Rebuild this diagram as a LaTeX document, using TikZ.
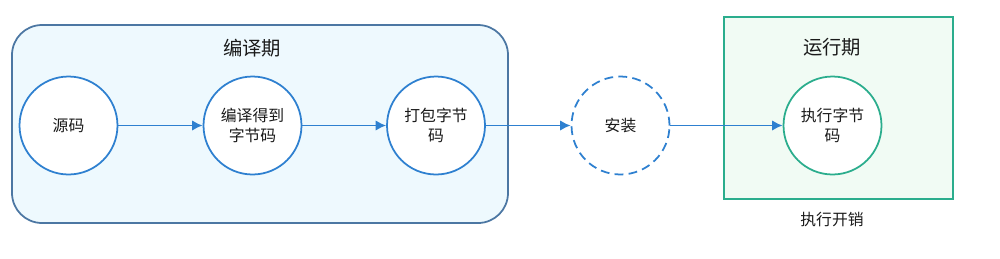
\documentclass[tikz,border=0pt]{standalone}
\usepackage{fontspec}
\setmainfont{Noto Sans CJK SC}
\usepackage{xcolor}
\usetikzlibrary{arrows.meta,positioning}
\definecolor{compileline}{HTML}{4C77A3}
\definecolor{compilefill}{HTML}{EEF9FE}
\definecolor{stepblue}{HTML}{2E80D0}
\definecolor{runline}{HTML}{2BAD8D}
\definecolor{runfill}{HTML}{F1FBF4}
\definecolor{txt}{HTML}{1A1A1A}

\begin{document}
\begin{tikzpicture}[x=0.02cm, y=-0.02cm, >={Latex[length=6pt,width=6pt]},
    every node/.style={font=\fontsize{9pt}{11.4pt}\selectfont, text=txt},
    stage/.style={circle, draw=stepblue, line width=1pt, fill=white,
      minimum size=1.96cm, inner sep=0pt, align=center, text width=1.4cm},
    flow/.style={->, draw=stepblue, line width=1pt}]
    \useasboundingbox (0,0) rectangle (1000,258);
    % phases
    \draw[draw=compileline, fill=compilefill, line width=1pt, rounded corners=0.6cm]
      (12,25) rectangle (508,223);
    \node[font=\fontsize{11pt}{13pt}\selectfont] (compiletitle) at (252,48) {编译期};
    \draw[draw=runline, fill=runfill, line width=1pt] (724,17) rectangle (953,199);
    \node[font=\fontsize{11pt}{13pt}\selectfont] (runtitle) at (832,47) {运行期};
    \node (runcost) at (832,220) {执行开销};
    % steps
    \node[stage] (source) at (68.5,125.5) {源码};
    \node[stage] (compile) at (252.5,125.5) {编译得到\\字节码};
    \node[stage] (pack) at (436,125.5) {打包字节\\码};
    \node[stage, dashed, dash pattern=on 5pt off 3pt] (install) at (620.5,125.5) {安装};
    \node[stage, draw=runline] (run) at (832.5,125.5) {执行字节\\码};
    % arrows
    \draw[flow] (source) -- (compile);
    \draw[flow] (compile) -- (pack);
    \draw[flow] (pack) -- (install);
    \draw[flow] (install) -- (run);
  \end{tikzpicture}
\end{document}
